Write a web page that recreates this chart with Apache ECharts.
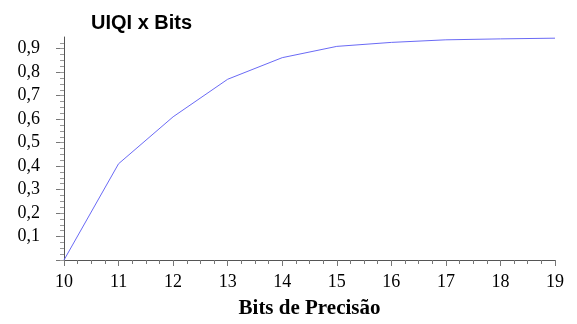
<!DOCTYPE html>
<html>
<head>
<meta charset="utf-8">
<script src="https://cdn.jsdelivr.net/npm/echarts@6/dist/echarts.min.js"></script>
<style>html,body{margin:0;padding:0;background:#fff}#c{width:577px;height:324px}</style>
</head>
<body>
<div id="c"></div>
<script>
var titleText = 'UIQI x Bits';
var xName = 'Bits de Precisão';
var bits = [10, 11, 12, 13, 14, 15, 16, 17, 18, 19];
var uiqi = [0.0, 0.41, 0.61, 0.77, 0.862, 0.91, 0.927, 0.938, 0.942, 0.945];
var yTicks = [0.1, 0.2, 0.3, 0.4, 0.5, 0.6, 0.7, 0.8, 0.9];

var majorY = [0].concat(yTicks);
var minorY = [];
for (var i = 0; i <= 37; i++) { minorY.push(Math.round(i * 0.025 * 1000) / 1000); }

var chart = echarts.init(document.getElementById('c'), null, {renderer: 'canvas'});
var serif = 'Liberation Serif, Times New Roman, serif';
chart.setOption({
  animation: false,
  title: {
    text: titleText, left: 86, top: 8,
    textStyle: {fontFamily: 'Liberation Sans, Arial, sans-serif', fontWeight: 'bold', fontSize: 20, color: '#000'}
  },
  grid: {left: 64, right: 22, top: 37, bottom: 63, containLabel: false},
  xAxis: {
    type: 'value', min: 10, max: 19, interval: 1,
    name: xName, nameLocation: 'middle', nameGap: 38,
    nameTextStyle: {fontFamily: serif, fontWeight: 'bold', fontSize: 21, color: '#000'},
    axisLine: {show: true, onZero: false, lineStyle: {color: '#555', width: 1}},
    axisTick: {show: true, length: 6, lineStyle: {color: '#777'}},
    minorTick: {show: true, splitNumber: 4, length: 4, lineStyle: {color: '#777'}},
    splitLine: {show: false},
    axisLabel: {fontFamily: serif, fontSize: 18, color: '#000', margin: 13}
  },
  yAxis: [{
    type: 'value', min: 0, max: 0.95, interval: 0.1,
    axisLine: {show: true, lineStyle: {color: '#555', width: 1}},
    axisTick: {show: true, length: 8, customValues: majorY, lineStyle: {color: '#777'}},
    splitLine: {show: false},
    axisLabel: {
      fontFamily: serif, fontSize: 18, color: '#000', margin: 24,
      customValues: yTicks,
      formatter: function (v) { return v.toFixed(1).replace('.', ','); }
    }
  }, {
    type: 'value', min: 0, max: 0.95, position: 'left',
    axisLine: {show: false},
    axisTick: {show: true, length: 4, customValues: minorY, lineStyle: {color: '#999'}},
    axisLabel: {show: false},
    splitLine: {show: false}
  }],
  series: [{
    type: 'line',
    data: bits.map(function (b, i) { return [b, uiqi[i]]; }),
    showSymbol: false, symbol: 'none',
    lineStyle: {color: '#6a6af5', width: 1},
    itemStyle: {color: '#6a6af5'}
  }]
});
</script>
</body>
</html>
